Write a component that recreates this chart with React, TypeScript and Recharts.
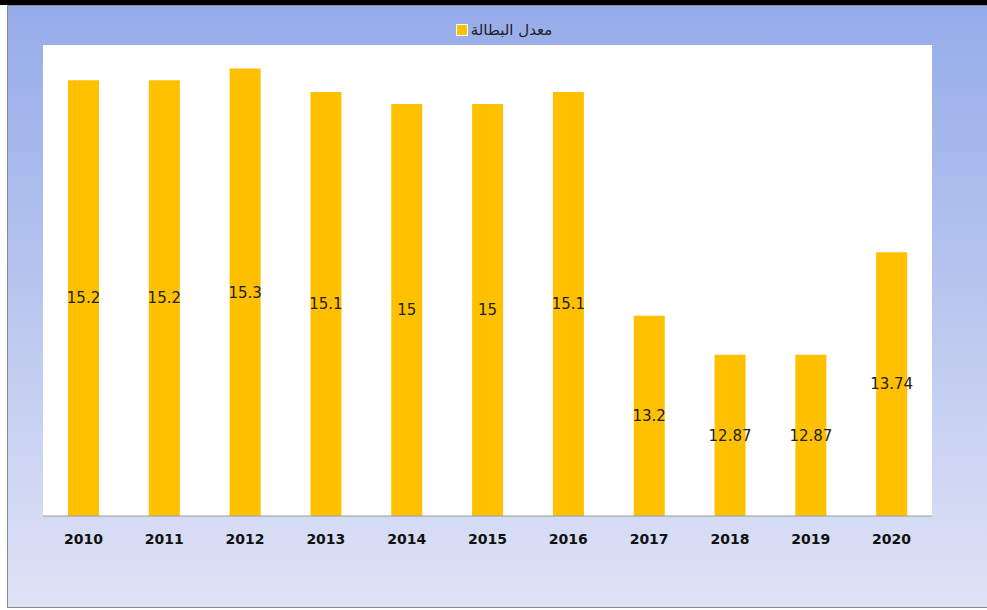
import React from "react";
import { BarChart, Bar, XAxis, YAxis, CartesianGrid, Legend, LabelList } from "recharts";

const years = ["2010", "2011", "2012", "2013", "2014", "2015", "2016", "2017", "2018", "2019", "2020"];
const unemploymentRate = [15.2, 15.2, 15.3, 15.1, 15, 15, 15.1, 13.2, 12.87, 12.87, 13.74];
const seriesName = "معدل البطالة";

const data = years.map((year, i) => ({ year, rate: unemploymentRate[i] }));

const LegendBox = () => (
  <div
    style={{
      height: 20,
      paddingLeft: 33,
      display: "flex",
      justifyContent: "center",
      alignItems: "center",
      fontFamily: "'DejaVu Sans', sans-serif",
      fontSize: 15,
      color: "#222",
    }}
  >
    <span
      style={{
        width: 10,
        height: 10,
        background: "#FFC000",
        border: "1px solid #fff",
        marginRight: 3,
        display: "inline-block",
      }}
    />
    <span dir="rtl">{seriesName}</span>
  </div>
);

export default function App() {
  return (
    <div style={{ position: "absolute", left: 0, top: 0, width: 987, height: 610, background: "#fff" }}>
      <div style={{ position: "absolute", left: 0, top: 0, width: 987, height: 5, background: "#000" }} />
      <div
        style={{
          position: "absolute",
          left: 7,
          top: 5,
          width: 979,
          height: 601,
          borderTop: "1px solid #8a8a8a",
          borderLeft: "1px solid #8a8a8a",
          borderBottom: "1px solid #8a8a8a",
          background: "linear-gradient(to bottom, #96ACEA 0%, #B6C4EE 45%, #DFE3F6 100%)",
        }}
      >
        <BarChart
          width={979}
          height={600}
          data={data}
          margin={{ top: 19, right: 55, bottom: 60, left: 35 }}
          barSize={31}
        >
          <CartesianGrid horizontal={false} vertical={false} fill="#ffffff" />
          <Legend
            verticalAlign="top"
            align="center"
            wrapperStyle={{ top: 14 }}
            content={() => <LegendBox />}
          />
          <XAxis
            dataKey="year"
            axisLine={{ stroke: "#9a9a9a" }}
            tickLine={false}
            height={30}
            tick={{ fill: "#111", fontSize: 14, fontWeight: 700, fontFamily: "'DejaVu Sans', sans-serif" }}
            dy={10}
          />
          <YAxis hide domain={[11.5, 15.5]} />
          <Bar dataKey="rate" fill="#FFC000" isAnimationActive={false}>
            <LabelList
              dataKey="rate"
              position="center"
              fill="#222"
              fontSize={15}
              fontFamily="'DejaVu Sans', sans-serif"
            />
          </Bar>
        </BarChart>
      </div>
    </div>
  );
}
